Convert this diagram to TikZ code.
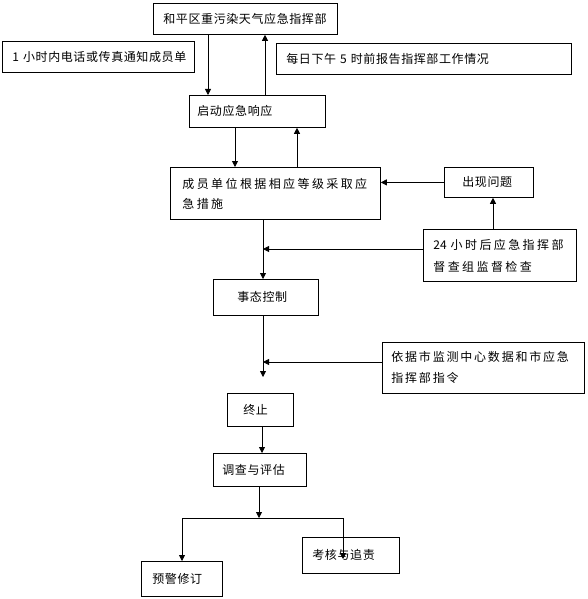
\documentclass[tikz,border=0pt]{standalone}
\usepackage{fontspec}
\newfontfamily\cjkplain{Noto Sans CJK SC}
\newfontfamily\cjk[LetterSpace=5]{Noto Sans CJK SC}
\newfontfamily\cjkmid[LetterSpace=15]{Noto Sans CJK SC}
\newfontfamily\cjkwide[LetterSpace=20]{Noto Sans CJK SC}
\usetikzlibrary{arrows.meta}

\begin{document}
\begin{tikzpicture}[x=1pt,y=-1pt,
  box/.style={draw,line width=0.8pt,anchor=north west,align=left,inner ysep=0pt,inner xsep=10pt,
    font=\fontsize{12pt}{21pt}\selectfont\cjk},
  flow/.style={line width=0.8pt,-{Triangle[length=6pt,width=6pt]}}]
\useasboundingbox (0,0) rectangle (587,599);
\node[box,text width=164pt,minimum height=31pt] (hq) at (153,3) {和平区重污染天气应急指挥部};
\node[box,text width=172pt,minimum height=31pt] (tz) at (2,41) {1~小时内电话或传真通知成员单};
\node[box,text width=275pt,minimum height=31pt] (bg) at (276,43) {每日下午~5~时前报告指挥部工作情况};
\node[box,inner xsep=8pt,text width=120pt,minimum height=32pt] (qd) at (189,95) {启动应急响应};
\node[box,inner xsep=12pt,text width=186pt,minimum height=52pt,
  font=\fontsize{12pt}{20pt}\selectfont\cjkwide] (cy) at (170,167) {成员单位根据相应等级采取应\\急措施};
\node[box,inner xsep=18pt,text width=53pt,minimum height=30pt] (wt) at (444,167) {出现问题};
\node[box,text width=133pt,minimum height=52pt,
  font=\fontsize{12pt}{22pt}\selectfont\cjkwide] (dc) at (423,229) {{\cjkplain 24}~小时后应急指挥部\\督查组监督检查};
\node[box,inner xsep=24pt,text width=57pt,minimum height=36pt] (sk) at (213,279) {事态控制};
\node[box,inner xsep=9pt,text width=184pt,minimum height=51pt,
  font=\fontsize{12pt}{21pt}\selectfont\cjkmid] (yj) at (382,342) {依据市监测中心数据和市应急\\指挥部指令};
\node[box,inner xsep=16pt,text width=34pt,minimum height=33pt] (zz) at (227,393) {终止};
\node[box,inner xsep=9pt,text width=75pt,minimum height=33pt] (pg) at (213,453) {调查与评估};
\node[box,text width=77pt,minimum height=36pt] (kh) at (302,537) {考核与追责};
\node[box,inner xsep=11pt,text width=59pt,minimum height=35pt] (yx) at (141,561) {预警修订};

% upper loop
\draw[flow] (hq.south -| 208,0) -- (qd.north -| 208,0);
\draw[flow] (qd.north -| 265,0) -- (hq.south -| 265,0);
\draw[flow] (qd.south -| 235,0) -- (cy.north -| 235,0);
\draw[flow] (cy.north -| 297,0) -- (qd.south -| 297,0);
\draw[flow] (wt.west) -- (wt.west -| cy.east);
\draw[flow] (dc.north -| 493,0) -- (wt.south -| 493,0);

% main line
\coordinate (join1) at (263,249);
\coordinate (join2) at (263,362);
\coordinate (end1) at (263,377);
\draw[flow] (cy.south -| join1) -- (sk.north -| join1);
\draw[flow] (dc.west |- join1) -- (join1);
\draw[flow] (sk.south -| end1) -- (end1);
\draw[flow] (yj.west |- join2) -- (join2);
\draw[flow] (zz.south -| 262,0) -- (pg.north -| 262,0);

% branch
\coordinate (fork) at (259,518);
\coordinate (end2) at (343,559);
\draw[flow] (pg.south -| fork) -- (fork);
\draw[flow] (fork) -| (yx.north -| 182,0);
\draw[flow] (fork) -| (end2);
\end{tikzpicture}
\end{document}
